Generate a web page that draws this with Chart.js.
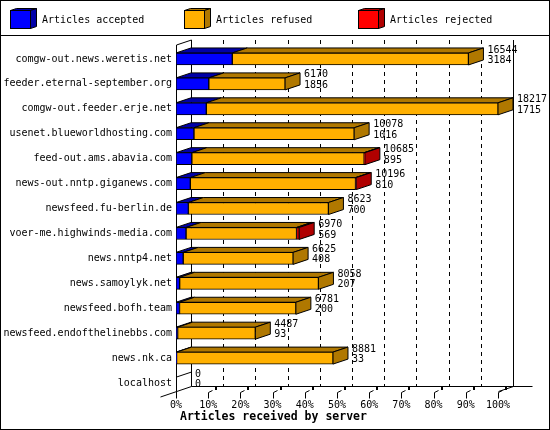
<!DOCTYPE html>
<html>
<head>
<meta charset="utf-8">
<script src="https://cdn.jsdelivr.net/npm/chart.js@4/dist/chart.umd.min.js"></script>
<style>
  body { margin: 0; background: #fff; }
  #feedChart { display: block; }
</style>
</head>
<body>
<canvas id="feedChart" width="550" height="430"></canvas>
<script>
const servers = [
  'comgw-out.news.weretis.net', 'feeder.eternal-september.org', 'comgw-out.feeder.erje.net',
  'usenet.blueworldhosting.com', 'feed-out.ams.abavia.com', 'news-out.nntp.giganews.com',
  'newsfeed.fu-berlin.de', 'voer-me.highwinds-media.com', 'news.nntp4.net',
  'news.samoylyk.net', 'newsfeed.bofh.team', 'newsfeed.endofthelinebbs.com',
  'news.nk.ca', 'localhost'
];
const totals   = [16544, 6170, 18217, 10078, 10685, 10196, 8623, 6970, 6625, 8058, 6781, 4487, 8881, 0];
const accepted = [3184, 1856, 1715, 1016, 895, 810, 700, 569, 408, 207, 200, 93, 33, 0];
const refused  = [13360, 4314, 16502, 9062, 9750, 9346, 7923, 6251, 6217, 7851, 6581, 4394, 8848, 0];
const rejected = [0, 0, 0, 0, 40, 40, 0, 150, 0, 0, 0, 0, 0, 0];
const tickPercents = [0, 10, 20, 30, 40, 50, 60, 70, 80, 90, 100];
const tickLabels = ['0%', '10%', '20%', '30%', '40%', '50%', '60%', '70%', '80%', '90%', '100%'];

const maxTotal = Math.max(...totals);
const DX = 15, DY = 5;
const MONO = '"DejaVu Sans Mono", monospace';

const series = [
  { label: 'Articles accepted', data: accepted, color: '#0000ff', dark: '#0000a8' },
  { label: 'Articles refused',  data: refused,  color: '#ffb000', dark: '#b07800' },
  { label: 'Articles rejected', data: rejected, color: '#ff0000', dark: '#b00000' }
];

function line(ctx, x1, y1, x2, y2) {
  ctx.beginPath(); ctx.moveTo(x1, y1); ctx.lineTo(x2, y2); ctx.stroke();
}
function poly(ctx, pts, fill) {
  ctx.beginPath();
  ctx.moveTo(pts[0][0], pts[0][1]);
  for (let k = 1; k < pts.length; k++) ctx.lineTo(pts[k][0], pts[k][1]);
  ctx.closePath();
  if (fill) { ctx.fillStyle = fill; ctx.fill(); }
  ctx.stroke();
}

// back wall, floor and the 3d faces of the bars
const depthPlugin = {
  id: 'depth',
  beforeDatasetsDraw(chart) {
    const { ctx, chartArea: a, scales: { x } } = chart;
    const left = Math.round(a.left) + 0.5;
    const top = 40, floor = 386.5, bottom = Math.round(a.bottom) + 0.5;
    ctx.save();
    ctx.strokeStyle = '#000';
    ctx.lineWidth = 1;

    ctx.setLineDash([4, 4]);
    x.ticks.forEach((t, i) => {
      if (i === 0 || i === x.ticks.length - 1) return;
      const px = Math.round(x.getPixelForValue(t.value)) + DX + 0.5;
      line(ctx, px, top, px, floor);
    });
    ctx.setLineDash([]);

    const backL = left + DX;
    const backR = Math.round(x.getPixelForValue(maxTotal)) + DX + 0.5;
    line(ctx, backL, top, backL, floor);
    line(ctx, backR, top, backR, floor);
    line(ctx, left, top + DY, backL, top);
    line(ctx, left, top + DY, left, bottom);
    line(ctx, backL, floor, backR + 19, floor);
    line(ctx, left - 16, bottom + 0.5, backL, floor);
    line(ctx, backR - DX, floor + DY, backR, floor);

    // front ticks with their little stubs
    x.ticks.forEach(t => {
      const px = Math.round(x.getPixelForValue(t.value)) + 0.5;
      line(ctx, px, bottom + 2, px, bottom - 4);
      if (t.value > 0) {
        line(ctx, px, bottom - 4, px + 4, bottom - 6);
        ctx.fillStyle = '#000';
        ctx.fillRect(px + 6.5, bottom - 9.5, 2, 3);
      }
    });

    // top and side faces
    const metas = series.map((s, d) => chart.getDatasetMeta(d));
    servers.forEach((name, i) => {
      const els = metas.map(m => m.data[i]);
      const yTop = els[0].y - els[0].height / 2;
      const yBot = els[0].y + els[0].height / 2;
      let last = -1;
      els.forEach((el, d) => {
        const l = Math.min(el.base, el.x), r = Math.max(el.base, el.x);
        if (r - l < 0.5) return;
        last = d;
        poly(ctx, [[l, yTop], [l + DX, yTop - DY], [r + DX, yTop - DY], [r, yTop]], series[d].dark);
      });
      if (last >= 0) {
        const r = Math.max(els[last].base, els[last].x);
        poly(ctx, [[r, yTop], [r + DX, yTop - DY], [r + DX, yBot - DY], [r, yBot]], series[last].dark);
      } else {
        line(ctx, left, yTop, left + DX, yTop - DY);
      }
    });
    ctx.restore();
  },
  afterDatasetsDraw(chart) {
    const { ctx } = chart;
    const endMeta = chart.getDatasetMeta(series.length - 1);
    ctx.save();
    ctx.fillStyle = '#000';
    ctx.font = '10px ' + MONO;
    ctx.textAlign = 'left';
    ctx.textBaseline = 'middle';
    servers.forEach((name, i) => {
      const el = endMeta.data[i];
      const tx = Math.max(el.x, el.base) + DX + 4;
      ctx.fillText(String(totals[i]), tx, el.y - 9);
      ctx.fillText(String(accepted[i]), tx, el.y + 1.5);
    });
    ctx.restore();
  },
  afterDraw(chart) {
    const { ctx, width, height } = chart;
    ctx.save();
    ctx.strokeStyle = '#000';
    ctx.lineWidth = 1;
    ctx.strokeRect(0.5, 0.5, width - 1, height - 1);
    line(ctx, 0, 35.5, width, 35.5);

    const legendX = [10, 184, 358];
    ctx.font = '10px ' + MONO;
    ctx.textBaseline = 'middle';
    series.forEach((s, d) => {
      const bx = legendX[d] + 0.5, by = 10.5;
      poly(ctx, [[bx, by], [bx + 6, by - 2], [bx + 26, by - 2], [bx + 20, by]], s.dark);
      poly(ctx, [[bx + 20, by], [bx + 26, by - 2], [bx + 26, by + 16], [bx + 20, by + 18]], s.dark);
      ctx.fillStyle = s.color;
      ctx.fillRect(bx, by, 20, 18);
      ctx.strokeRect(bx, by, 20, 18);
      ctx.fillStyle = '#000';
      ctx.fillText(s.label, legendX[d] + 32, 20);
    });

    ctx.font = 'bold 11.5px ' + MONO;
    ctx.fillText('Articles received by server', 180, 417);
    ctx.restore();
  }
};

new Chart(document.getElementById('feedChart'), {
  type: 'bar',
  data: {
    labels: servers,
    datasets: series.map(s => ({
      label: s.label,
      data: s.data,
      backgroundColor: s.color,
      borderColor: '#000',
      borderWidth: 1,
      borderSkipped: false,
      barThickness: 12
    }))
  },
  options: {
    indexAxis: 'y',
    responsive: false,
    animation: false,
    devicePixelRatio: 1,
    layout: { padding: { top: 46.5, right: 52, bottom: 0, left: 0 } },
    plugins: { legend: { display: false }, tooltip: { enabled: false } },
    scales: {
      x: {
        stacked: true,
        min: 0,
        max: maxTotal,
        grid: { display: false, drawTicks: false },
        border: { display: false },
        afterBuildTicks: scale => {
          scale.ticks = tickPercents.map(p => ({ value: p / 100 * maxTotal }));
        },
        afterFit: scale => { scale.height = 34.5; },
        ticks: {
          autoSkip: false,
          maxRotation: 0,
          padding: 4,
          color: '#000',
          font: { family: MONO, size: 10 },
          callback: (v, i) => tickLabels[i]
        }
      },
      y: {
        stacked: true,
        grid: { display: false, drawTicks: false },
        border: { display: false },
        afterFit: scale => { scale.width = 176; },
        ticks: {
          autoSkip: false,
          padding: 4,
          color: '#000',
          font: { family: MONO, size: 10 }
        }
      }
    }
  },
  plugins: [depthPlugin]
});
</script>
</body>
</html>
